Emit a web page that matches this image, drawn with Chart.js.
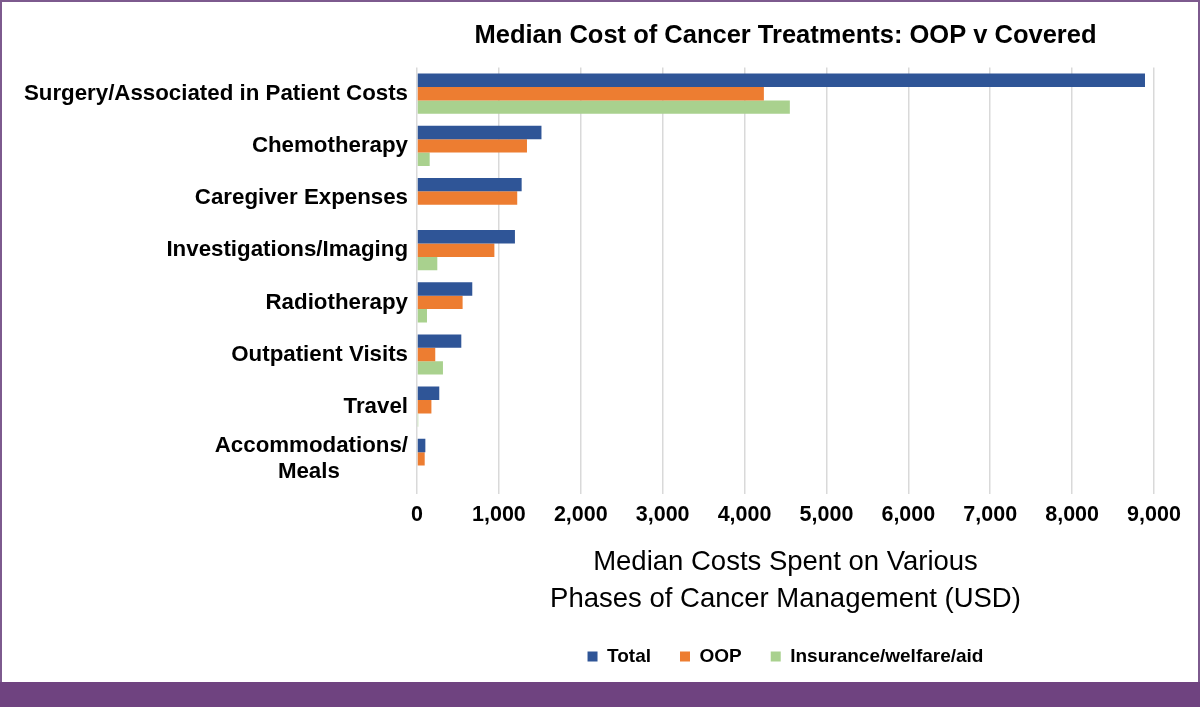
<!DOCTYPE html>
<html>
<head>
<meta charset="utf-8">
<script src="https://cdn.jsdelivr.net/npm/chart.js@4"></script>
<style>
  html, body { margin: 0; padding: 0; background: #ffffff; }
  body { width: 1200px; height: 707px; position: relative; overflow: hidden; }
  #wrap { position: absolute; left: 0; top: 0; width: 1200px; height: 682px; }
  #frame { position: absolute; left: 0; top: 0; width: 1196px; height: 680px;
           border-left: 2px solid #7d5a8e; border-right: 2px solid #7d5a8e; border-top: 2px solid #7d5a8e; pointer-events: none; }
  #band { position: absolute; left: 0; top: 682px; width: 1200px; height: 25px; background: #6f4380; }
</style>
</head>
<body>
<div id="wrap"><canvas id="c" width="1200" height="682"></canvas></div>
<div id="frame"></div>
<div id="band"></div>
<script>
const categories = [
  "Surgery/Associated in Patient Costs",
  "Chemotherapy",
  "Caregiver Expenses",
  "Investigations/Imaging",
  "Radiotherapy",
  "Outpatient Visits",
  "Travel",
  ["Accommodations/", "Meals\u00A0\u00A0\u00A0\u00A0\u00A0\u00A0\u00A0\u00A0\u00A0\u00A0\u00A0"]
];
const totalValues = [8890, 1520, 1278, 1196, 675, 541, 272, 102];
const oopValues = [4236, 1343, 1224, 945, 557, 223, 176, 94];
const insuranceValues = [4553, 155, 0, 248, 122, 317, 15, 0];
const seriesNames = ["Total", "OOP", "Insurance/welfare/aid"];
const xTickMax = 9000;
const chartTitle = "Median Cost of Cancer Treatments: OOP v Covered";
const xAxisTitle = ["Median Costs Spent on Various", "Phases of Cancer Management (USD)"];

const FONT = "'Liberation Sans', Arial, sans-serif";

new Chart(document.getElementById('c'), {
  type: 'bar',
  data: {
    labels: categories,
    datasets: [
      { label: seriesNames[0], data: totalValues, backgroundColor: '#2f5597' },
      { label: seriesNames[1], data: oopValues, backgroundColor: '#ed7d31' },
      { label: seriesNames[2], data: insuranceValues, backgroundColor: '#a9d18e' }
    ]
  },
  options: {
    indexAxis: 'y',
    responsive: false,
    animation: false,
    devicePixelRatio: 1,
    datasets: { bar: { categoryPercentage: 0.77, barPercentage: 1.0, borderWidth: 0 } },
    layout: { padding: { top: 0, left: 0, right: 46, bottom: 6 } },
    plugins: {
      title: {
        display: true,
        text: chartTitle,
        fullSize: false,
        color: '#000000',
        font: { family: FONT, size: 25.5, weight: 'bold' },
        padding: { top: 21, bottom: 16 }
      },
      legend: {
        display: true,
        position: 'bottom',
        fullSize: false,
        labels: {
          boxWidth: 10, boxHeight: 10, padding: 29,
          color: '#000000',
          font: { family: FONT, size: 19, weight: 'bold' }
        }
      },
      tooltip: { enabled: false }
    },
    scales: {
      x: {
        min: 0, max: xTickMax,
        ticks: {
          stepSize: 1000,
          color: '#000000',
          padding: 8,
          font: { family: FONT, size: 21.5, weight: 'bold' },
          callback: v => v.toLocaleString('en-US')
        },
        grid: { color: '#d9d9d9', lineWidth: 1.5, drawTicks: true, tickLength: 9 },
        border: { display: false },
        title: {
          display: true,
          text: xAxisTitle,
          color: '#000000',
          font: { family: FONT, size: 27.5, weight: 'normal', lineHeight: 1.35 },
          padding: { top: 8, bottom: 0 }
        }
      },
      y: {
        ticks: {
          color: '#000000',
          padding: 9,
          font: { family: FONT, size: 22.3, weight: 'bold' },
          autoSkip: false
        },
        grid: { display: false, drawTicks: false },
        border: { display: false },
        afterFit: s => { s.width = 417; }
      }
    }
  }
});
</script>
</body>
</html>
